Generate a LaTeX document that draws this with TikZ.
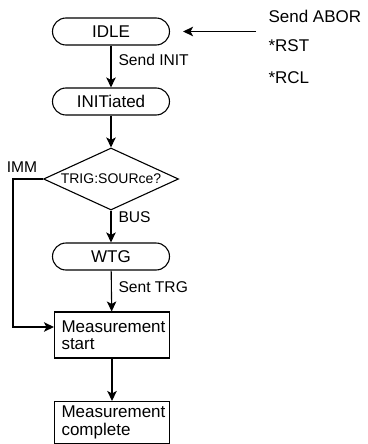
\documentclass[tikz,border=0pt]{standalone}
\usepackage{fontspec}
\setmainfont{Liberation Sans}
\usetikzlibrary{shapes.geometric,arrows.meta}

\begin{document}
\begin{tikzpicture}[x=1pt,y=-1pt,line width=1.1pt,
  state/.style={draw,rounded corners=13.5pt,minimum width=117pt,minimum height=27pt,inner sep=0pt,font=\fontsize{17}{18}\selectfont},
  box/.style={draw,minimum width=115pt,inner sep=0pt,text width=101pt,align=left,font=\fontsize{17}{17.5}\selectfont},
  cond/.style={draw,diamond,aspect=2.2,minimum width=135pt,minimum height=62pt,inner sep=1pt,font=\fontsize{14}{15}\selectfont},
  lbl/.style={inner sep=0pt,anchor=west,font=\fontsize{15.6}{17}\selectfont},
  cmd/.style={inner sep=0pt,anchor=west,font=\fontsize{17}{18}\selectfont},
  arr/.style={-{Stealth[length=10pt,width=9.5pt,inset=2.5pt]}}]
\useasboundingbox (0,0) rectangle (367,444);
% states
\node[state] (idle) at (111,31.5) {IDLE};
\node[state] (init) at (111,101.5) {INITiated};
\node[cond] (trig) at (111,179) {TRIG:SOURce?};
\node[state] (wtg) at (111,256.5) {WTG};
\node[box,minimum height=46pt] (mstart) at (112,335) {Measurement\\start};
\node[box,minimum height=42pt] (mdone) at (112,422.5) {Measurement\\complete};
% reset commands
\node[cmd] (abor) at (268,16) {Send ABOR};
\node[cmd] (rst) at (268,46) {*RST};
\node[cmd] (rcl) at (268,77.5) {*RCL};
\coordinate (src) at (256,31.5);
\draw[arr,shorten >=13pt] (src) -- (idle.east);
% flow
\draw[arr] (idle) -- (init);
\draw[arr] (init) -- (trig);
\draw[arr] (trig) -- (wtg);
\draw[arr] (wtg) -- (mstart);
\draw[arr] (mstart) -- (mdone);
\coordinate (bend) at (13,327);
\draw[arr] (trig.west) -| (bend) -- (mstart.west |- bend);
% labels
\node[lbl] (lsend) at (118,60) {Send INIT};
\node[lbl] (lbus) at (118,217) {BUS};
\node[lbl] (ltrg) at (118,287) {Sent TRG};
\node[lbl,anchor=center] (limm) at (22,167.5) {IMM};
\end{tikzpicture}
\end{document}
